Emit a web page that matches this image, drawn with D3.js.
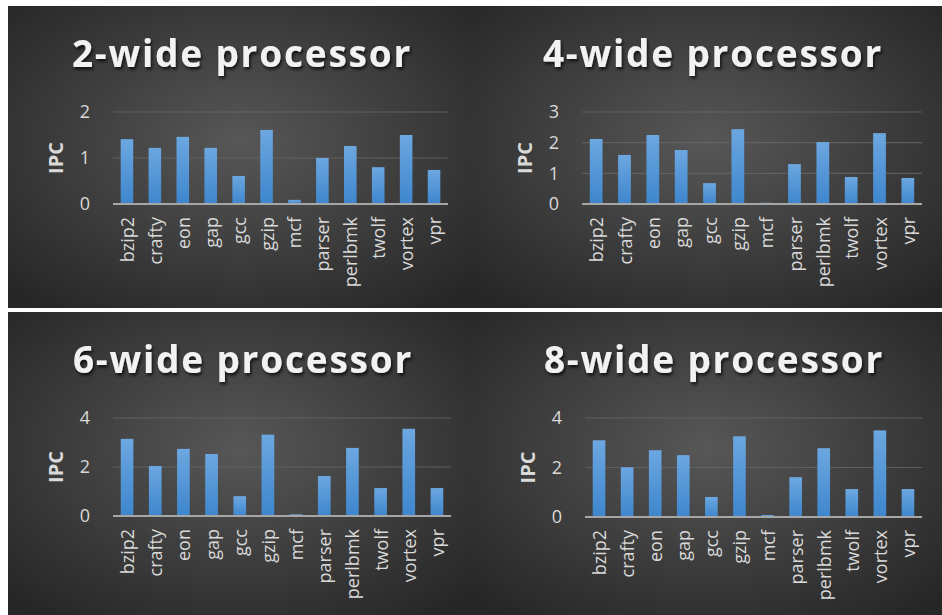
<!DOCTYPE html>
<html>
<head>
<meta charset="utf-8">
<script src="https://cdn.jsdelivr.net/npm/d3@7"></script>
<style>
  html, body { margin: 0; padding: 0; background: #ffffff; }
  svg { display: block; }
  text { font-family: "Open Sans", "DejaVu Sans", sans-serif; }
</style>
</head>
<body>
<svg id="chart" width="942" height="615"></svg>
<script>
// Benchmarks on the x axis
const benchmarks = ["bzip2", "crafty", "eon", "gap", "gcc", "gzip", "mcf", "parser", "perlbmk", "twolf", "vortex", "vpr"];

// IPC per benchmark for each issue width
const ipc2wide = [1.41, 1.22, 1.46, 1.22, 0.61, 1.61, 0.09, 1.00, 1.26, 0.80, 1.50, 0.74];
const ipc4wide = [2.12, 1.60, 2.25, 1.76, 0.68, 2.44, 0.04, 1.30, 2.02, 0.88, 2.31, 0.85];
const ipc6wide = [3.15, 2.04, 2.74, 2.53, 0.81, 3.32, 0.07, 1.63, 2.78, 1.14, 3.56, 1.14];
const ipc8wide = [3.10, 2.01, 2.70, 2.50, 0.81, 3.26, 0.08, 1.61, 2.78, 1.13, 3.50, 1.13];

// Chart titles and y tick values
const titles = ["2-wide processor", "4-wide processor", "6-wide processor", "8-wide processor"];
const yTicks2 = [0, 1, 2];
const yTicks4 = [0, 1, 2, 3];
const yTicks6 = [0, 2, 4];
const yTicks8 = [0, 2, 4];
const yAxisTitle = "IPC";

const seriesList = [ipc2wide, ipc4wide, ipc6wide, ipc8wide];
const tickList = [yTicks2, yTicks4, yTicks6, yTicks8];

// Panel frames and plot areas (local coordinates inside each panel)
const panels = [
  { x: 8,   y: 6,   w: 463, h: 302, left: 105, right: 440, top: 106, bottom: 198, titleX: 234 },
  { x: 471, y: 6,   w: 471, h: 302, left: 111, right: 451, top: 106, bottom: 198, titleX: 242 },
  { x: 8,   y: 312, w: 463, h: 303, left: 105, right: 443, top: 106, bottom: 204, titleX: 235 },
  { x: 471, y: 312, w: 471, h: 303, left: 114, right: 451, top: 106, bottom: 205, titleX: 243 }
];

const svg = d3.select("#chart");
const defs = svg.append("defs");

const bg = defs.append("radialGradient").attr("id", "bgGrad")
  .attr("cx", "50%").attr("cy", "45%").attr("r", "70%");
bg.append("stop").attr("offset", "0%").attr("stop-color", "#575757");
bg.append("stop").attr("offset", "100%").attr("stop-color", "#262626");

const barGrad = defs.append("linearGradient").attr("id", "barGrad")
  .attr("x1", 0).attr("y1", 0).attr("x2", 0).attr("y2", 1);
barGrad.append("stop").attr("offset", "0%").attr("stop-color", "#6ca7e0");
barGrad.append("stop").attr("offset", "100%").attr("stop-color", "#3e86cd");

const shadow = defs.append("filter").attr("id", "titleShadow")
  .attr("x", "-10%").attr("y", "-30%").attr("width", "120%").attr("height", "160%");
shadow.append("feDropShadow").attr("dx", 1.5).attr("dy", 2.5).attr("stdDeviation", 1.5)
  .attr("flood-color", "#000").attr("flood-opacity", 0.7);

panels.forEach((p, i) => {
  const values = seriesList[i];
  const ticks = tickList[i];
  const g = svg.append("g").attr("transform", `translate(${p.x},${p.y})`);

  g.append("rect").attr("width", p.w).attr("height", p.h).attr("fill", "url(#bgGrad)");

  const x = d3.scaleBand().domain(benchmarks).range([p.left, p.right]).paddingInner(0.55).paddingOuter(0.275);
  const y = d3.scaleLinear().domain([0, d3.max(ticks)]).range([p.bottom, p.top]);

  // Title
  g.append("text")
    .attr("x", p.titleX).attr("y", 61)
    .attr("text-anchor", "middle")
    .attr("font-size", 37).attr("font-weight", 700)
    .attr("letter-spacing", "1.8px")
    .attr("fill", "#f2f2f2")
    .attr("filter", "url(#titleShadow)")
    .text(titles[i]);

  // Gridlines
  g.append("g").selectAll("line").data(ticks.filter(t => t > 0)).join("line")
    .attr("x1", p.left).attr("x2", p.right)
    .attr("y1", d => y(d)).attr("y2", d => y(d))
    .attr("stroke", "#666666").attr("stroke-opacity", 0.8).attr("stroke-width", 1.2);

  // Y axis tick labels
  const yAxis = d3.axisLeft(y).tickValues(ticks).tickSize(0).tickPadding(23).tickFormat(d3.format("d"));
  const yg = g.append("g").attr("transform", `translate(${p.left},0)`).call(yAxis);
  yg.select(".domain").remove();
  yg.selectAll("text").attr("font-size", 18).attr("fill", "#d9d9d9")
    .attr("font-family", "'Open Sans', sans-serif");

  // Y axis title
  g.append("text")
    .attr("transform", `translate(${p.left - 50},${(p.top + p.bottom) / 2}) rotate(-90)`)
    .attr("text-anchor", "middle")
    .attr("font-size", 20).attr("font-weight", 700).attr("fill", "#d9d9d9")
    .text(yAxisTitle);

  // Bars
  g.append("g").selectAll("rect").data(values).join("rect")
    .attr("x", (d, j) => x(benchmarks[j]))
    .attr("width", x.bandwidth())
    .attr("y", d => y(d))
    .attr("height", d => y(0) - y(d))
    .attr("fill", "url(#barGrad)");

  // Zero axis line
  g.append("line")
    .attr("x1", p.left).attr("x2", p.right)
    .attr("y1", y(0)).attr("y2", y(0))
    .attr("stroke", "#a6a6a6").attr("stroke-width", 2);

  // Category labels, rotated
  const xAxis = d3.axisBottom(x).tickSize(0).tickPadding(0);
  const xg = g.append("g").attr("transform", `translate(0,${y(0)})`).call(xAxis);
  xg.select(".domain").remove();
  xg.selectAll("text")
    .attr("font-size", 18).attr("fill", "#d9d9d9")
    .attr("font-family", "'Open Sans', sans-serif")
    .attr("text-anchor", "end")
    .attr("dy", null)
    .attr("x", -13).attr("y", 0)
    .attr("dominant-baseline", "central")
    .attr("transform", "rotate(-90)");
});
</script>
</body>
</html>
